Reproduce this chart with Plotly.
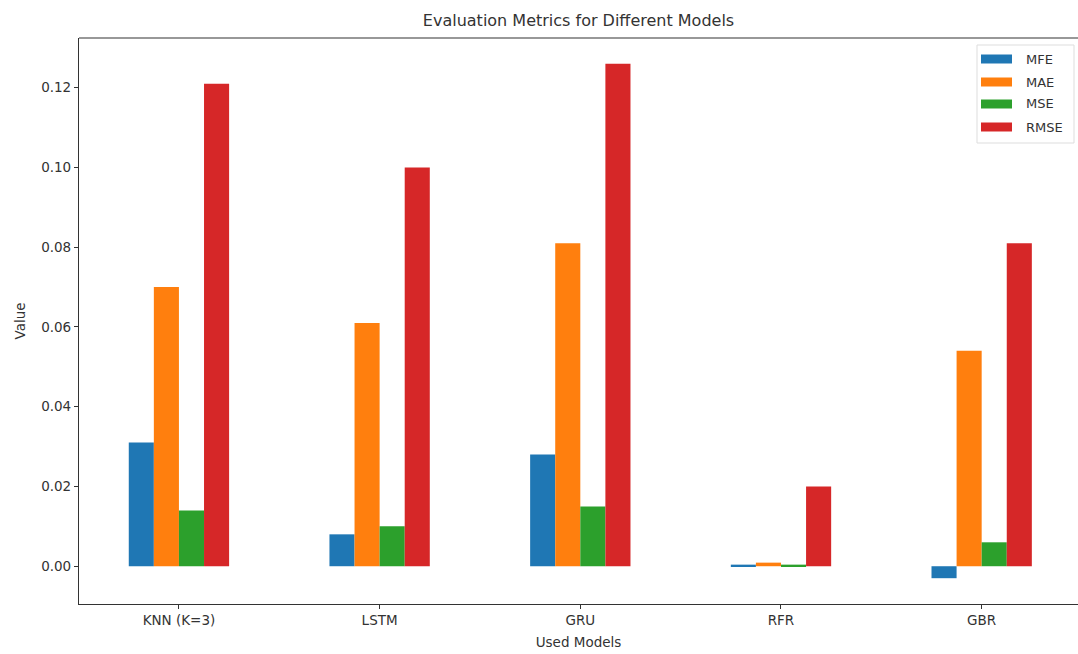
import plotly.graph_objects as go

# Evaluation results per model
models = ["KNN (K=3)", "LSTM", "GRU", "RFR", "GBR"]
metrics = ["MFE", "MAE", "MSE", "RMSE"]
mfe = [0.031, 0.008, 0.028, 0.0004, -0.003]
mae = [0.070, 0.061, 0.081, 0.0009, 0.054]
mse = [0.014, 0.010, 0.015, 0.0004, 0.006]
rmse = [0.121, 0.100, 0.126, 0.020, 0.081]
colors = ["#1f77b4", "#ff7f0e", "#2ca02c", "#d62728"]
yticks = [0.00, 0.02, 0.04, 0.06, 0.08, 0.10, 0.12]

series = [mfe, mae, mse, rmse]
x_pos = list(range(len(models)))
FONT = "DejaVu Sans"
AX = "#333333"

fig = go.Figure()
for name, vals, col in zip(metrics, series, colors):
    fig.add_trace(go.Bar(
        x=x_pos, y=vals, name=name, marker_color=col,
        marker_line_width=0, showlegend=False,
    ))

fig.update_layout(
    width=1078, height=654,
    margin=dict(l=79, r=0, t=38, b=50),
    paper_bgcolor="white", plot_bgcolor="white",
    barmode="group", bargap=0.5, bargroupgap=0,
    font=dict(family=FONT, size=13.5, color=AX),
    title=dict(text="Evaluation Metrics for Different Models",
               x=0.5, xref="paper", xanchor="center",
               y=1 - 20 / 654, yanchor="middle",
               font=dict(size=16, color=AX, family=FONT)),
    xaxis=dict(
        range=[-0.498, 4.48], tickmode="array", tickvals=x_pos, ticktext=models,
        showgrid=False, zeroline=False, showline=True, linecolor=AX, linewidth=1.2,
        ticks="outside", ticklen=4, tickcolor=AX, tickfont=dict(size=13.5),
        title=dict(text="Used Models", font=dict(size=13.5), standoff=10),
    ),
    yaxis=dict(
        range=[-0.00947, 0.13245], tickmode="array", tickvals=yticks,
        tickformat=".2f", showgrid=False, zeroline=False, showline=True,
        linecolor=AX, linewidth=1.2, ticks="outside", ticklen=4, tickcolor=AX,
        tickfont=dict(size=13.5),
        title=dict(text="Value", font=dict(size=13.5), standoff=12),
    ),
)

# top spine
fig.add_shape(type="line", xref="paper", yref="paper", x0=0, x1=1, y0=1, y1=1,
              line=dict(color=AX, width=1.2))

# legend box with wide patches
def py(px):
    return 1 - (px - 38) / (604 - 38)

W = 1078 - 79
def pxf(px):
    return (px - 79) / W

fig.add_shape(type="rect", xref="paper", yref="paper",
              x0=pxf(977), x1=pxf(1074), y0=py(143), y1=py(45),
              line=dict(color="#dddddd", width=1), fillcolor="rgba(255,255,255,0.85)")
centers = [59, 82, 104, 127]
for name, col, cy in zip(metrics, colors, centers):
    fig.add_shape(type="rect", xref="paper", yref="paper",
                  x0=pxf(981), x1=pxf(1012), y0=py(cy + 4.5), y1=py(cy - 4.5),
                  line=dict(width=0), fillcolor=col)
    fig.add_annotation(xref="paper", yref="paper", x=pxf(1024), y=py(cy),
                       text=name, showarrow=False, xanchor="left", yanchor="middle",
                       font=dict(size=13, color=AX, family=FONT))

fig.write_html("out.html")
